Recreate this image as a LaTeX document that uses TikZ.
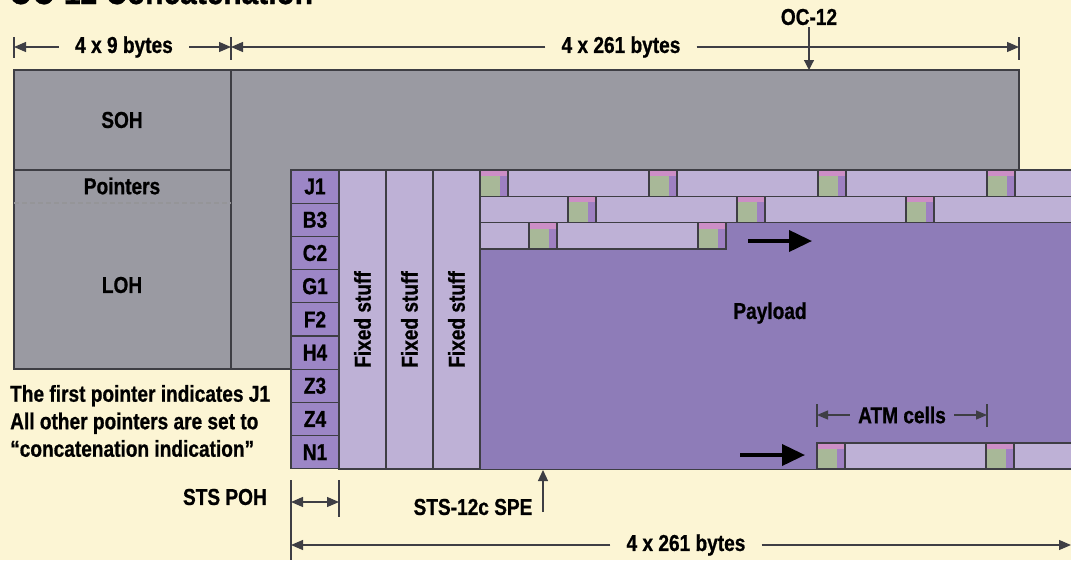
\documentclass[tikz,border=0pt]{standalone}
\usepackage{fontspec}
\setmainfont{Liberation Sans}[FakeStretch=0.83, BoldFeatures={FakeBold=0.8}]
\usetikzlibrary{arrows.meta}

\definecolor{cream}{RGB}{252,245,212}
\definecolor{ohgray}{RGB}{154,154,162}
\definecolor{edgegray}{RGB}{62,62,68}
\definecolor{pohpurple}{RGB}{156,134,198}
\definecolor{fixlav}{RGB}{190,177,214}
\definecolor{paypurple}{RGB}{142,124,184}
\definecolor{hdrgreen}{RGB}{168,184,152}
\definecolor{hdrpink}{RGB}{204,142,198}
\definecolor{hdrpurple}{RGB}{158,128,194}

\tikzset{
  frame/.style={draw=edgegray, line width=1.3pt},
  lbl/.style={font=\fontsize{23}{27}\selectfont\bfseries, inner sep=2pt},
  dimlabel/.style={lbl, inner xsep=16pt},
  dimline/.style={draw=edgegray, line width=1.2pt},
  dimarrow/.style={dimline, -{Triangle[length=12pt,width=10pt]}},
  bigarrow/.style={line width=3.8pt, -{Triangle[length=23pt,width=21pt]}},
  pohcell/.style={lbl, frame, fill=pohpurple, minimum width=48pt, minimum height=33.2pt},
  fixcol/.style={lbl, frame, fill=fixlav, rotate=90, minimum width=299pt, minimum height=47pt},
  cellbody/.style={frame, fill=fixlav}
}

% ATM cell header: x, y, height
\newcommand{\atmhead}[3]{%
  \fill[hdrgreen] (#1,#2) rectangle ++(28,#3);
  \fill[hdrpink] (#1,#2) rectangle ++(28,6);
  \fill[hdrpurple] (#1+20,#2+6) rectangle ++(8,#3-6);
  \draw[frame] (#1,#2) rectangle ++(28,#3);
}

\begin{document}
\begin{tikzpicture}[x=1pt,y=-1pt]

\useasboundingbox (0,0) rectangle (1071,560);
\clip (0,0) rectangle (1071,560);
\fill[cream] (0,0) rectangle (1071,560);

% Title
\node[anchor=base west, inner sep=0pt, font=\fontsize{36}{40}\selectfont\bfseries] (title) at (9,4) {OC-12 Concatenation};

% Widths on top
\coordinate (t0) at (14,47);
\coordinate (t1) at (231,47);
\coordinate (t2) at (1019,47);
\draw[dimline] (14,37) -- (14,58);
\draw[dimline] (231,37) -- (231,60);
\draw[dimline] (1019,37) -- (1019,60);
\node[dimlabel] (w9) at (124,47) {4 x 9 bytes};
\draw[dimarrow] (w9.west) -- (t0);
\draw[dimarrow] (w9.east) -- (t1);
\node[dimlabel] (w261) at (621,47) {4 x 261 bytes};
\draw[dimarrow] (w261.west) -- (t1);
\draw[dimarrow] (w261.east) -- (t2);

% OC-12 frame
\node[lbl] (oc) at (809,17) {OC-12};
\coordinate (octop) at (809,70);
\draw[dimline,-{Triangle[length=10pt,width=10pt]}] (oc.south) -- (octop);

% Overhead
\filldraw[fill=ohgray, frame] (14,70) rectangle (1019,369);
\draw[frame] (231,70) -- (231,369);
\draw[frame] (14,170) -- (231,170);
\draw[draw=edgegray!55, line width=1.2pt, dash pattern=on 5pt off 3pt] (14,203) -- (231,203);
\node[lbl] (soh) at (122,120) {SOH};
\node[lbl] (ptr) at (122,186) {Pointers};
\node[lbl] (loh) at (122,285) {LOH};

% STS-12c SPE
\node[frame, fill=paypurple, anchor=north west, minimum width=620pt, minimum height=299pt, inner sep=0pt] (payload) at (480,170) {};
\node[lbl] (paylbl) at (770,313) {Payload};

\foreach \t [count=\i from 0] in {J1,B3,C2,G1,F2,H4,Z3,Z4,N1}
  \node[pohcell] (poh-\t) at (315,186.6+\i*33.2) {\t};

\node[fixcol] (fix1) at (362.5,319.5) {Fixed stuff};
\node[fixcol] (fix2) at (409.5,319.5) {Fixed stuff};
\node[fixcol] (fix3) at (456.5,319.5) {Fixed stuff};

% ATM cells
\foreach \x in {480,649,818,987} {
  \draw[cellbody] (\x,170) rectangle ++(169,26.3);
  \atmhead{\x}{170}{26.3}
}
\draw[cellbody] (480,196.3) rectangle (568,222.6);
\foreach \x in {568,737,906} {
  \draw[cellbody] (\x,196.3) rectangle ++(169,26.3);
  \atmhead{\x}{196.3}{26.3}
}
\draw[cellbody] (480,222.6) rectangle (529,248.9);
\draw[cellbody] (529,222.6) rectangle ++(169,26.3);
\atmhead{529}{222.6}{26.3}
\atmhead{698}{222.6}{26.3}
\foreach \x in {817,986} {
  \draw[cellbody] (\x,443) rectangle ++(169,26);
  \atmhead{\x}{443}{26}
}

\coordinate (a1s) at (748,241);
\coordinate (a1e) at (812,241);
\draw[bigarrow] (a1s) -- (a1e);
\coordinate (a2s) at (740,455);
\coordinate (a2e) at (805,455);
\draw[bigarrow] (a2s) -- (a2e);

% ATM cell width
\draw[dimline] (817,404) -- (817,427);
\draw[dimline] (987,404) -- (987,427);
\coordinate (c0) at (817,415);
\coordinate (c1) at (987,415);
\node[lbl, inner xsep=8pt] (atm) at (902,415) {ATM cells};
\draw[dimline,-{Triangle[length=11pt,width=9pt]}] (atm.west) -- (c0);
\draw[dimline,-{Triangle[length=11pt,width=9pt]}] (atm.east) -- (c1);

% Note
\node[lbl, anchor=west, align=left, inner sep=0pt, font=\fontsize{23}{27.5}\selectfont\bfseries] (note) at (10,421)
  {The first pointer indicates J1\\All other pointers are set to\\``concatenation indication''};

% Widths at the bottom
\draw[dimline] (291,480) -- (291,560);
\draw[dimline] (339,480) -- (339,517);
\node[lbl, anchor=east] (stspoh) at (269,497) {STS POH};
\coordinate (p0) at (291,502);
\coordinate (p1) at (339,502);
\draw[dimline,{Triangle[length=12pt,width=10pt]}-{Triangle[length=12pt,width=10pt]}] (p0) -- (p1);

\node[lbl] (spe) at (473,507) {STS-12c SPE};
\coordinate (spefoot) at (543,512);
\coordinate (spetop) at (543,470);
\draw[dimline,-{Triangle[length=11pt,width=10pt]}] (spefoot) -- (spetop);

\coordinate (b0) at (291,545);
\coordinate (b1) at (1071,545);
\node[dimlabel] (w261b) at (686,545) {4 x 261 bytes};
\draw[dimarrow] (w261b.west) -- (b0);
\draw[dimarrow] (w261b.east) -- (b1);

\end{tikzpicture}
\end{document}
